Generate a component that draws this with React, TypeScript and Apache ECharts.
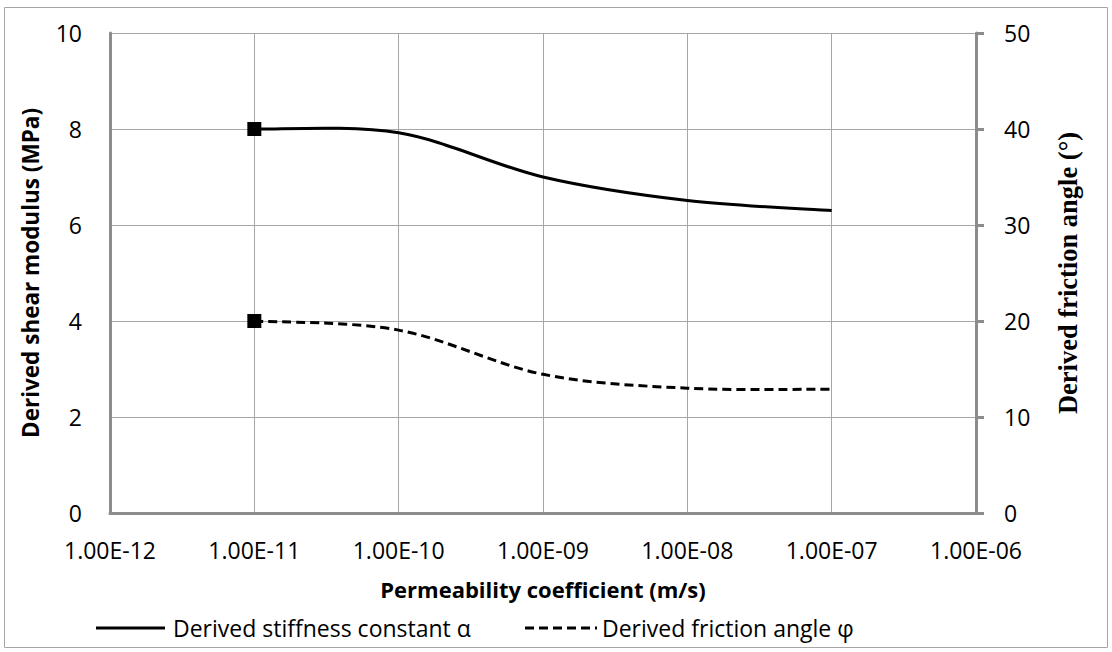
import React, { useEffect, useRef } from "react";
import * as echarts from "echarts";

const permeability = [1e-11, 1e-10, 1e-9, 1e-8, 1e-7];
const stiffness = [8.0, 7.92, 7.0, 6.51, 6.3];
const frictionAngle = [20.0, 19.05, 14.45, 13.0, 12.9];
const xTitle = "Permeability coefficient (m/s)";
const yLeftTitle = "Derived shear modulus (MPa)";
const yRightTitle = "Derived friction angle (°)";
const legendNames = ["Derived stiffness constant α", "Derived friction angle φ"];

const SANS = "'Open Sans', 'Noto Sans', sans-serif";
const SERIF = "'Liberation Serif', 'DejaVu Serif', serif";

function fmtExp(v: number): string {
  const s = v.toExponential(2);
  const [m, e] = s.split("e");
  const neg = e[0] === "-";
  let d = e.replace(/^[+-]/, "");
  if (d.length < 2) d = "0" + d;
  return m + "E" + (neg ? "-" : "+") + d;
}

// Excel-like smoothed line (Catmull-Rom Bezier) drawn through the axes' own scales
function smoothSeries(name: string, vals: number[], yAxisIndex: number, dash: number[] | null) {
  return {
    name,
    type: "custom",
    yAxisIndex,
    encode: { x: 0, y: 1 },
    data: permeability.map((x, k) => [x, vals[k], k]),
    z: 5,
    renderItem: (params: any, api: any) => {
      if (params.dataIndex !== 0) return null;
      const pts = permeability.map((x, k) => api.coord([x, vals[k]]));
      const n = pts.length;
      let d = `M${pts[0][0]},${pts[0][1]}`;
      for (let i = 0; i < n - 1; i++) {
        const p0 = pts[Math.max(i - 1, 0)];
        const p1 = pts[i];
        const p2 = pts[i + 1];
        const p3 = pts[Math.min(i + 2, n - 1)];
        const c1x = p1[0] + (p2[0] - p0[0]) / 6;
        const c1y = p1[1] + (p2[1] - p0[1]) / 6;
        const c2x = p2[0] - (p3[0] - p1[0]) / 6;
        const c2y = p2[1] - (p3[1] - p1[1]) / 6;
        d += ` C${c1x},${c1y} ${c2x},${c2y} ${p2[0]},${p2[1]}`;
      }
      const style: any = { stroke: "#000", lineWidth: 3, fill: "none" };
      if (dash) style.lineDash = dash;
      return {
        type: "group",
        children: [
          { type: "path", shape: { pathData: d }, style },
          {
            type: "rect",
            shape: { x: pts[0][0] - 7, y: pts[0][1] - 7, width: 14, height: 14 },
            style: { fill: "#000" },
          },
        ],
      };
    },
  };
}

export default function App() {
  const ref = useRef<HTMLDivElement>(null);
  useEffect(() => {
    document.body.style.margin = "0";
    const chart = echarts.init(ref.current!, null, { renderer: "svg" });
    const axisGray = "#8c8c8c";
    const gridGray = "#a6a6a6";
    chart.setOption({
      animation: false,
      backgroundColor: "#fff",
      grid: { left: 110, right: 136, top: 33, bottom: 139 },
      xAxis: {
        type: "log",
        logBase: 10,
        min: 1e-12,
        max: 1e-6,
        axisLine: { show: true, onZero: false, lineStyle: { color: axisGray, width: 3 } },
        axisTick: { show: false },
        splitLine: { show: true, lineStyle: { color: gridGray, width: 1 } },
        axisLabel: {
          formatter: (v: number) => fmtExp(v),
          fontFamily: SANS,
          fontSize: 23,
          color: "#000",
          margin: 25,
        },
        name: xTitle,
        nameLocation: "middle",
        nameGap: 65,
        nameTextStyle: { fontFamily: SANS, fontSize: 22, fontWeight: "bold", color: "#000" },
      },
      yAxis: [
        {
          type: "value",
          min: 0,
          max: 10,
          interval: 2,
          position: "left",
          axisLine: { show: true, lineStyle: { color: axisGray, width: 3 } },
          axisTick: { show: false },
          splitLine: { show: true, lineStyle: { color: gridGray, width: 1 } },
          axisLabel: { fontFamily: SANS, fontSize: 23, color: "#000", margin: 28 },
          name: yLeftTitle,
          nameLocation: "middle",
          nameRotate: 90,
          nameGap: 68,
          nameTextStyle: { fontFamily: SANS, fontSize: 22.5, fontWeight: "bold", color: "#000" },
        },
        {
          type: "value",
          min: 0,
          max: 50,
          interval: 10,
          position: "right",
          axisLine: { show: true, lineStyle: { color: axisGray, width: 3 } },
          axisTick: { show: true, inside: false, length: 8, lineStyle: { color: axisGray, width: 3 } },
          splitLine: { show: false },
          axisLabel: { fontFamily: SANS, fontSize: 23, color: "#000", margin: 28 },
          name: yRightTitle,
          nameLocation: "middle",
          nameRotate: 90,
          nameGap: 78,
          nameTextStyle: { fontFamily: SERIF, fontSize: 26.5, fontWeight: "bold", color: "#000" },
        },
      ],
      series: [
        smoothSeries(legendNames[0], stiffness, 0, null),
        smoothSeries(legendNames[1], frictionAngle, 1, [9, 5]),
      ],
      graphic: [
        {
          type: "rect",
          shape: { x: 4.5, y: 7.5, width: 1103, height: 640 },
          style: { fill: "none", stroke: "#a6a6a6", lineWidth: 1 },
          silent: true,
          z: -10,
        },
        {
          type: "line",
          shape: { x1: 96, y1: 628, x2: 165, y2: 628 },
          style: { stroke: "#000", lineWidth: 3 },
        },
        {
          type: "text",
          x: 173,
          y: 628,
          style: { text: legendNames[0], font: `23px ${SANS}`, fill: "#000", verticalAlign: "middle" },
        },
        {
          type: "line",
          shape: { x1: 525, y1: 628, x2: 597, y2: 628 },
          style: { stroke: "#000", lineWidth: 3, lineDash: [9, 5] },
        },
        {
          type: "text",
          x: 602,
          y: 628,
          style: { text: legendNames[1], font: `23px ${SANS}`, fill: "#000", verticalAlign: "middle" },
        },
      ],
    });
    return () => chart.dispose();
  }, []);
  return <div ref={ref} style={{ width: 1112, height: 652 }} />;
}
